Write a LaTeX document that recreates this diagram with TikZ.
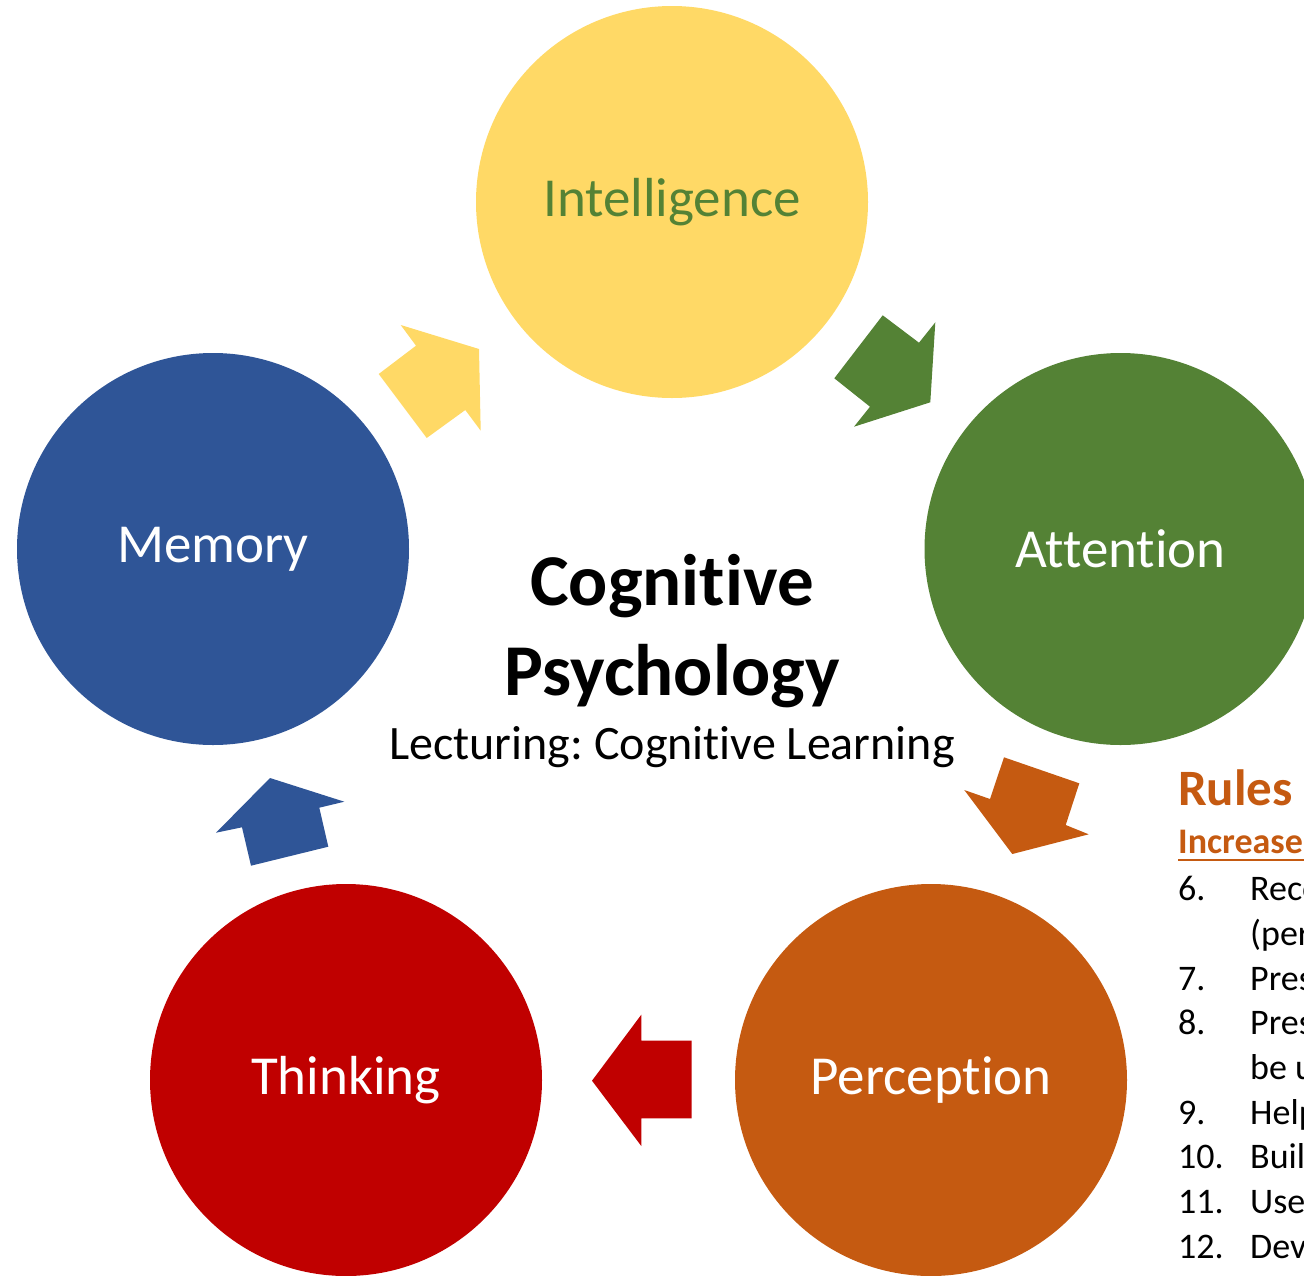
\documentclass[tikz,border=0pt]{standalone}
\usepackage{fontspec}
\setmainfont{Carlito}[Ligatures=NoCommon]
\frenchspacing
\definecolor{cyellow}{HTML}{FFD966}
\definecolor{cgreen}{HTML}{548235}
\definecolor{corange}{HTML}{C55A11}
\definecolor{cred}{HTML}{C00000}
\definecolor{cblue}{HTML}{2F5597}
\tikzset{
  topic/.style={circle, minimum size=392pt, inner sep=0pt, text=white,
    font=\fontsize{55}{66}\selectfont},
  listnum/.style={anchor=base west, inner sep=0pt, font=\fontsize{36}{44}\selectfont},
}
\begin{document}
\begin{tikzpicture}[x=1pt,y=-1pt]
\useasboundingbox (0,0) rectangle (1304,1275);
\clip (0,0) rectangle (1304,1275);
% circles
\node[topic, fill=cyellow, text=cgreen] (intel) at (672,202) {Intelligence};
\node[topic, fill=cgreen] (atten) at (1120.5,549) {Attention};
\node[topic, fill=corange] (perc) at (931,1080) {Perception};
\node[topic, fill=cred] (think) at (346,1080) {Thinking};
\node[topic, fill=cblue] (mem) at (213,549) {Memory};
% block arrows
\fill[cyellow] (400.7,325) -- (479,349) -- (480.7,430.7) -- (465.3,410) -- (426.7,438) -- (378.7,374) -- (416,345.7) -- cycle;
\fill[cgreen] (882.7,315.3) -- (919,342.7) -- (935.3,322.3) -- (930.3,402.3) -- (854,426.7) -- (870,406.7) -- (834.3,378.3) -- cycle;
\fill[corange] (1004,757.3) -- (1079.3,783.3) -- (1065.7,825) -- (1088.7,834.3) -- (1012.3,854) -- (964.3,790) -- (990,799) -- cycle;
\fill[cred] (641.3,1014.7) -- (641.3,1040.7) -- (691.7,1040.7) -- (691.7,1118.3) -- (641.3,1118.3) -- (641.3,1146) -- (592,1080.7) -- cycle;
\fill[cblue] (270,778) -- (344.3,801.7) -- (319.3,807.7) -- (328.3,846.7) -- (251,865.7) -- (242,827.3) -- (216,832.7) -- cycle;
% centre title
\node[anchor=base, inner sep=0pt, font=\bfseries\fontsize{73}{88}\selectfont] (t1) at (672,605) {Cognitive};
\node[anchor=base, inner sep=0pt, font=\bfseries\fontsize{73}{88}\selectfont] (t2) at (672,695) {Psychology};
\node[anchor=base, inner sep=0pt, font=\fontsize{48}{58}\selectfont] (t3) at (672,759) {Lecturing: Cognitive Learning};
% right text
\node[anchor=base west, inner sep=0pt, text=corange, font=\bfseries\fontsize{51}{61}\selectfont] (rules) at (1178,805) {Rules to};
\node[anchor=base west, inner sep=0pt, text=corange, font=\bfseries\fontsize{36}{44}\selectfont] (incr) at (1178,853) {Increase the};
\draw[corange, line width=2.6pt] ([yshift=-7pt]incr.base west) -- ([yshift=-7pt]incr.base east);
\node[listnum] (n6) at (1178,900.7) {6.};
\node[listnum] (l6) at (1250,900.7) {Recog};
\node[listnum] (l6b) at (1250,945.4) {(pers};
\node[listnum] (n7) at (1178,990) {7.};
\node[listnum] (l7) at (1250,990) {Pres};
\node[listnum] (n8) at (1178,1034.7) {8.};
\node[listnum] (l8) at (1250,1034.7) {Pres};
\node[listnum] (l8b) at (1250,1079.4) {be u};
\node[listnum] (n9) at (1178,1124) {9.};
\node[listnum] (l9) at (1250,1124) {Help};
\node[listnum] (n10) at (1178,1168.8) {10.};
\node[listnum] (l10) at (1250,1168.8) {Build};
\node[listnum] (n11) at (1178,1213.5) {11.};
\node[listnum] (l11) at (1250,1213.5) {Use};
\node[listnum] (n12) at (1178,1258) {12.};
\node[listnum] (l12) at (1250,1258) {Deve};
\end{tikzpicture}
\end{document}
